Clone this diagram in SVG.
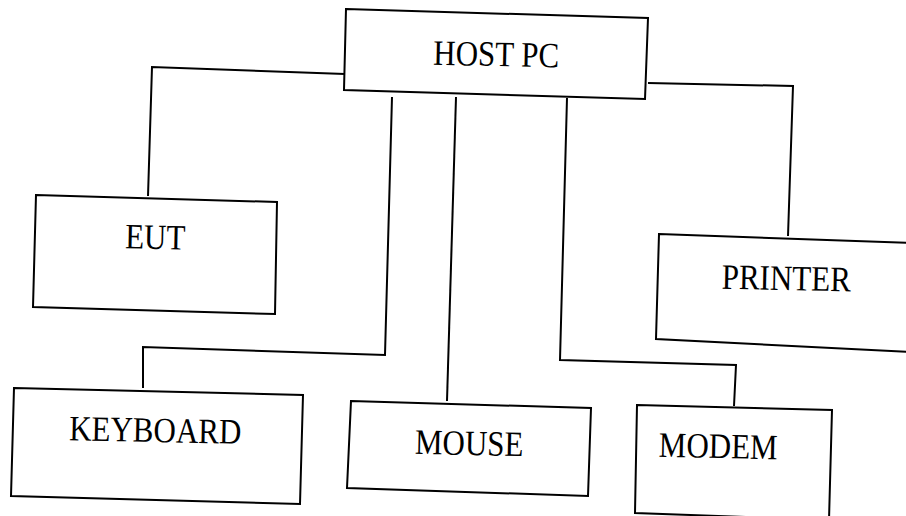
<svg xmlns="http://www.w3.org/2000/svg" width="906" height="516" viewBox="0 0 906 516">
<style>
.box{fill:#fff;stroke:#000;stroke-width:2;stroke-linejoin:miter}
.ln{fill:none;stroke:#000;stroke-width:2}
.t{font-family:"Liberation Serif","Times New Roman",serif;font-size:31px;fill:#000;text-anchor:middle}
</style>
<rect width="906" height="516" fill="#fff"/>
<g id="connectors">
<polyline class="ln" points="345,74 152,67 148,196"/>
<polyline class="ln" points="392,97 385,355 143,347 143,388"/>
<polyline class="ln" points="456,97 447,401"/>
<polyline class="ln" points="567,98 560,360 736,365 734,406"/>
<polyline class="ln" points="648,83 793,86 788,236"/>
</g>
<g id="host-pc">
<polygon class="box" points="346,9 648,18 645,99 344,90"/>
<text class="t" transform="translate(496,66) rotate(1.2) scale(1,1.15)">HOST PC</text>
</g>
<g id="eut">
<polygon class="box" points="36,195 277,202 275,314 33,307"/>
<text class="t" transform="translate(155,249) rotate(1.2) scale(1,1.15)">EUT</text>
</g>
<g id="printer">
<polygon class="box" points="659,234 910,243 910,352 656,339"/>
<text class="t" transform="translate(786,290) rotate(1.2) scale(1,1.15)">PRINTER</text>
</g>
<g id="keyboard">
<polygon class="box" points="14,388 303,395 300,504 11,496"/>
<text class="t" transform="translate(155,442) rotate(1.2) scale(1,1.15)">KEYBOARD</text>
</g>
<g id="mouse">
<polygon class="box" points="351,401 591,408 588,496 347,488"/>
<text class="t" transform="translate(469,455) rotate(1.2) scale(1,1.15)">MOUSE</text>
</g>
<g id="modem">
<polygon class="box" points="637,405 832,410 829,520 635,513"/>
<text class="t" transform="translate(718,458) rotate(1.2) scale(1,1.15)">MODEM</text>
</g>
</svg>
